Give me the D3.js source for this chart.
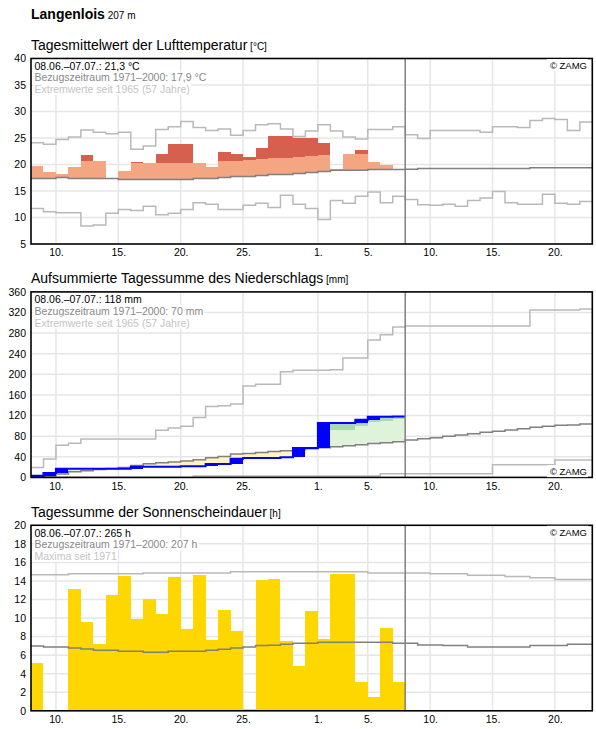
<!DOCTYPE html>
<html>
<head>
<meta charset="utf-8">
<script src="https://cdn.jsdelivr.net/npm/d3@7"></script>
<style>
  body { margin: 0; background: #fff; }
  svg { display: block; font-family: "Liberation Sans", Arial, sans-serif; }
</style>
</head>
<body>
<svg id="chart" width="596" height="729"></svg>
<script>
// ---- data: one value per day, starting 08.06. (index 0) ----
var startDay = "2021-06-08";
var nDays = 45;
var todayIndex = 30; // 08.07.
var xTickDates = ["2021-06-10", "2021-06-15", "2021-06-20", "2021-06-25", "2021-07-01",
                  "2021-07-05", "2021-07-10", "2021-07-15", "2021-07-20"];

// temperature [°C]
var tempTicks = [5, 10, 15, 20, 25, 30, 35, 40];
var tempVal = [19.7, 18.55, 18.2, 19.5, 21.75, 20.6, null, 18.75, 20.45, 20.2,
               21.95, 23.8, 23.8, 20.2, 19.5, 22.3, 21.95, 21.35, 23.05, 25.3,
               25.3, 24.95, 24.95, 24.0, 19.1, 21.9, 22.7, 20.45, 19.85, null];
// upper normal bound, only where the day exceeds it
var tempNorm = [null, null, null, null, 20.62, null, null, null, 20.24, null,
                20.24, 20.24, 20.24, null, null, 20.62, 20.62, 20.8, 21.0, 21.18,
                21.18, 21.37, 21.56, 21.75, null, null, 21.94, null, null, null];
var tempClim = [17.36, 17.36, 17.55, 17.36, 17.36, 17.36, 17.36, 17.17, 17.17, 17.17,
                17.17, 17.17, 17.17, 17.36, 17.36, 17.55, 17.74, 17.74, 17.93, 18.12,
                18.12, 18.3, 18.5, 18.7, 18.93, 18.93, 18.93, 19.05, 19.05, 19.05,
                19.1, 19.24, 19.24, 19.24, 19.24, 19.24, 19.24, 19.24, 19.24, 19.24,
                19.4, 19.4, 19.4, 19.4, 19.4];
var tempMax = [24.1, 23.8, 24.7, 25.2, 26.5, 26.1, 25.8, 26.1, 22.9, 23.5,
               26.6, 27.1, 28.1, 27.0, 26.4, 26.7, 25.5, 26.4, 27.5, 27.7,
               26.7, 25.3, 26.3, 27.5, 26.3, 25.2, 24.8, 26.6, 26.6, 27.1,
               25.6, 24.9, 26.4, 26.4, 26.4, 26.4, 26.1, 27.1, 27.1, 27.0,
               28.3, 28.7, 28.5, 26.4, 28.0];
var tempMin = [11.7, 11.1, 10.9, 10.9, 8.4, 8.6, 10.8, 11.5, 11.3, 12.1,
               10.5, 10.8, 11.5, 12.8, 12.5, 11.5, 11.5, 12.3, 12.7, 11.9,
               14.2, 12.5, 11.7, 9.6, 13.2, 12.7, 14.0, 14.8, 12.8, 14.0,
               13.4, 12.4, 12.3, 12.5, 12.1, 13.2, 13.7, 14.9, 12.8, 12.5,
               12.5, 14.4, 12.7, 12.5, 13.0];

// accumulated precipitation [mm]
var precTicks = [0, 40, 80, 120, 160, 200, 240, 280, 320, 360];
var precObs = [3.2, 8.4, 16.8, 16.8, 16.8, 16.8, 16.8, 16.8, 20.7, 20.7,
               20.7, 20.7, 21.5, 21.5, 25.9, 25.9, 36.3, 37.6, 37.6, 37.6,
               38.9, 57.0, 57.0, 105.5, 105.5, 105.5, 112.0, 117.5, 117.5, 118.0];
var precUpper = [null, null, null, null, null, null, null, null, null, null,
                 null, null, null, null, null, null, null, null, null, null,
                 null, null, null, null, 91.3, 91.3, 99.0, 107.4, 109.4, 113.9];
var precClim = [1.0, 2.6, 6.5, 11.0, 13.0, 15.5, 17.5, 19.4, 23.3, 26.5,
                28.5, 29.8, 31.7, 34.3, 38.2, 40.8, 45.3, 46.6, 48.5, 50.5,
                51.8, 53.7, 55.7, 57.6, 59.5, 61.5, 63.4, 66.0, 67.3, 69.3,
                72.6, 75.1, 77.0, 79.7, 82.3, 84.9, 87.4, 89.4, 92.0, 94.6,
                97.1, 99.1, 101.0, 101.7, 103.6];
var precMax = [19.4, 35.7, 62.5, 66.3, 74.5, 74.5, 74.5, 74.5, 74.5, 74.5,
               91.3, 95.8, 99.2, 116.4, 137.8, 139.1, 142.3, 177.3, 180.6, 180.6,
               205.0, 207.8, 207.8, 207.8, 209.0, 231.7, 231.7, 266.6, 277.0, 291.9,
               293.9, 293.9, 293.9, 293.9, 293.9, 293.9, 293.9, 293.9, 293.9, 293.9,
               325.0, 325.0, 325.0, 325.0, 327.0];
var precMin = [0, 0, 0, 0, 0, 0, 0, 0, 0, 0,
               0, 0, 0, 2.5, 2.5, 2.5, 2.5, 2.5, 2.5, 2.5,
               2.5, 2.5, 2.5, 2.5, 2.5, 2.5, 2.5, 2.5, 7.0, 7.0,
               7.0, 7.0, 7.0, 7.0, 7.0, 7.0, 7.0, 24.6, 24.6, 24.6,
               24.6, 24.6, 34.0, 34.0, 34.0];

// sunshine duration [h]
var sunTicks = [0, 2, 4, 6, 8, 10, 12, 14, 16, 18, 20];
var sunObs = [5.16, 0, 0, 13.1, 9.57, 7.2, 12.47, 14.5, 9.93, 12.04,
              10.43, 14.4, 8.85, 14.62, 7.63, 10.9, 8.6, 0.2, 14.1, 14.2,
              7.53, 4.87, 10.8, 7.78, 14.73, 14.73, 3.12, 1.5, 8.92, 3.12];
var sunClim = [6.99, 6.88, 6.88, 6.77, 6.67, 6.52, 6.52, 6.42, 6.42, 6.31,
               6.31, 6.42, 6.42, 6.42, 6.52, 6.63, 6.77, 6.88, 7.03, 7.06,
               7.17, 7.28, 7.28, 7.38, 7.38, 7.38, 7.38, 7.38, 7.38, 7.28,
               7.28, 7.10, 7.10, 7.03, 7.03, 6.88, 6.88, 6.88, 6.88, 6.88,
               7.03, 7.03, 7.03, 7.17, 7.17];
var sunMax = [14.66, 14.66, 14.66, 14.77, 14.77, 14.77, 14.77, 14.77, 14.77, 14.87,
              14.87, 14.87, 14.87, 14.87, 14.87, 14.87, 14.98, 14.98, 14.98, 14.98,
              14.98, 14.98, 14.98, 14.98, 14.98, 14.98, 14.98, 14.87, 14.87, 14.87,
              14.87, 14.87, 14.77, 14.77, 14.77, 14.62, 14.62, 14.62, 14.48, 14.48,
              14.34, 14.34, 14.16, 14.16, 14.16];

// ---- drawing ----
var svg = d3.select("#chart");
var left = 31, right = 592.3, panelH = 185.5;
var t0 = new Date(startDay + "T00:00:00Z");
function day(i) { return new Date(t0.getTime() + i * 864e5); }
var x = d3.scaleUtc().domain([day(0), day(nDays)]).range([left, right]);

var cMean = "#808080", cExt = "#b9b9b9", cGrid = "#e6e6e6";

svg.append("text").attr("x", 31).attr("y", 19)
  .style("font-size", "14px").style("font-weight", "bold")
  .text("Langenlois")
  .append("tspan").style("font-weight", "normal").style("font-size", "10px").text(" 207 m");

function makePanel(top, title, unit, ticks, legend, zamgBottom) {
  var y = d3.scaleLinear().domain([ticks[0], ticks[ticks.length - 1]]).range([top + panelH, top]);
  var g = svg.append("g");

  svg.append("text").attr("x", 31).attr("y", top - 8.5).style("font-size", "14px")
    .text(title).append("tspan").style("font-size", "10px").text(" [" + unit + "]");

  // grid
  g.selectAll(".hg").data(ticks.slice(1, -1)).enter().append("line")
    .attr("x1", left).attr("x2", right).attr("y1", y).attr("y2", y)
    .attr("stroke", cGrid).attr("stroke-width", 1.5);
  g.selectAll(".vg").data(xTickDates).enter().append("line")
    .attr("x1", function(d) { return x(new Date(d + "T00:00:00Z")); })
    .attr("x2", function(d) { return x(new Date(d + "T00:00:00Z")); })
    .attr("y1", top).attr("y2", top + panelH)
    .attr("stroke", cGrid).attr("stroke-width", 1.5);

  // axes
  var ya = svg.append("g").attr("transform", "translate(" + left + ",0)")
    .call(d3.axisLeft(y).tickValues(ticks).tickSize(0).tickPadding(5));
  var xa = svg.append("g").attr("transform", "translate(0," + (top + panelH) + ")")
    .call(d3.axisBottom(x).tickValues(xTickDates.map(function(d) { return new Date(d + "T00:00:00Z"); }))
      .tickSize(0).tickPadding(5).tickFormat(d3.utcFormat("%-d.")));
  [ya, xa].forEach(function(a) {
    a.select(".domain").remove();
    a.selectAll("text").style("font-size", "10.5px").attr("fill", "#000")
      .style("font-family", "'Liberation Sans', Arial, sans-serif");
  });

  var marks = svg.append("g");
  var over = svg.append("g");

  return {
    y: y, top: top, marks: marks,
    finish: function() {
      over.append("line").attr("x1", x(day(todayIndex))).attr("x2", x(day(todayIndex)))
        .attr("y1", top).attr("y2", top + panelH).attr("stroke", cMean).attr("stroke-width", 1.5);
      over.append("rect").attr("x", left).attr("y", top).attr("width", right - left).attr("height", panelH)
        .attr("fill", "none").attr("stroke", "#000").attr("stroke-width", 1.6);
      var colors = ["#000", "#888", "#c4c4c4"];
      legend.forEach(function(txt, k) {
        var t = over.append("text").attr("x", 34.5).attr("y", top + 11.2 + k * 11.7)
          .style("font-size", "10.5px").attr("fill", colors[k]).text(txt);
        var b = t.node().getBBox();
        over.insert("rect", function() { return t.node(); })
          .attr("x", b.x - 1).attr("y", b.y).attr("width", b.width + 2).attr("height", b.height)
          .attr("fill", "#fff");
      });
      var z = over.append("text").attr("x", 587).attr("y", zamgBottom ? top + panelH - 2.3 : top + 10.5)
        .attr("text-anchor", "end").style("font-size", "9.5px").text("\u00a9 ZAMG");
      var zb = z.node().getBBox();
      over.insert("rect", function() { return z.node(); })
        .attr("x", zb.x - 3).attr("y", zb.y - 1).attr("width", zb.width + 4).attr("height", zb.height + 1)
        .attr("fill", "#fff");
    }
  };
}

function stepPath(vals, y) {
  var pts = vals.map(function(v, i) { return [i, v]; });
  pts.push([vals.length, vals[vals.length - 1]]);
  return d3.line().x(function(d) { return x(day(d[0])); }).y(function(d) { return y(d[1]); })
    .curve(d3.curveStepAfter)(pts);
}
function band(g, i, lo, hi, y, color) {
  g.append("rect").attr("x", x(day(i))).attr("width", x(day(i + 1)) - x(day(i)))
    .attr("y", y(hi)).attr("height", y(lo) - y(hi)).attr("fill", color)
    .attr("shape-rendering", "crispEdges");
}
function drawLine(g, vals, y, color, w) {
  g.append("path").attr("d", stepPath(vals, y)).attr("fill", "none")
    .attr("stroke", color).attr("stroke-width", w || 1.5);
}

var gap = 233.4;

// panel 1: temperature
var p1 = makePanel(58.5, "Tagesmittelwert der Lufttemperatur", "°C", tempTicks,
  ["08.06.\u201307.07.: 21,3 °C", "Bezugszeitraum 1971\u20132000: 17,9 °C", "Extremwerte seit 1965 (57 Jahre)"], false);
tempVal.forEach(function(v, i) {
  if (v == null || v <= tempClim[i]) return;
  var n = tempNorm[i];
  var lightTop = (n != null && v > n) ? n : v;
  band(p1.marks, i, tempClim[i], lightTop, p1.y, "#f4a582");
  if (n != null && v > n) band(p1.marks, i, n, v, p1.y, "#d6604d");
});
drawLine(p1.marks, tempMax, p1.y, cExt);
drawLine(p1.marks, tempMin, p1.y, cExt);
drawLine(p1.marks, tempClim, p1.y, cMean);
p1.finish();

// panel 2: precipitation
var p2 = makePanel(58.5 + gap, "Aufsummierte Tagessumme des Niederschlags", "mm", precTicks,
  ["08.06.\u201307.07.: 118 mm", "Bezugszeitraum 1971\u20132000: 70 mm", "Extremwerte seit 1965 (57 Jahre)"], true);
precObs.forEach(function(v, i) {
  var c = precClim[i], u = precUpper[i];
  if (v < c) band(p2.marks, i, v, c, p2.y, "#fff4c2");
  if (v > c) {
    var lightTop = (u != null && v > u) ? u : v;
    band(p2.marks, i, c, lightTop, p2.y, "#dff2da");
    if (u != null && v > u) band(p2.marks, i, u, v, p2.y, "#a9dab5");
  }
});
drawLine(p2.marks, precMax, p2.y, cExt);
drawLine(p2.marks, precMin, p2.y, cExt);
drawLine(p2.marks, precClim, p2.y, cMean);
precObs.forEach(function(v, i) {
  var prev = i > 0 ? precObs[i - 1] : 0;
  if (v > prev) band(p2.marks, i, prev, v, p2.y, "#0000ff");
});
drawLine(p2.marks, precObs, p2.y, "#0000ff", 2);
p2.finish();

// panel 3: sunshine
var p3 = makePanel(58.5 + 2 * gap, "Tagessumme der Sonnenscheindauer", "h", sunTicks,
  ["08.06.\u201307.07.: 265 h", "Bezugszeitraum 1971\u20132000: 207 h", "Maxima seit 1971"], false);
sunObs.forEach(function(v, i) {
  if (v > 0) band(p3.marks, i, 0, v, p3.y, "#ffd700");
});
drawLine(p3.marks, sunMax, p3.y, cExt);
drawLine(p3.marks, sunClim, p3.y, cMean);
p3.finish();
</script>
</body>
</html>
